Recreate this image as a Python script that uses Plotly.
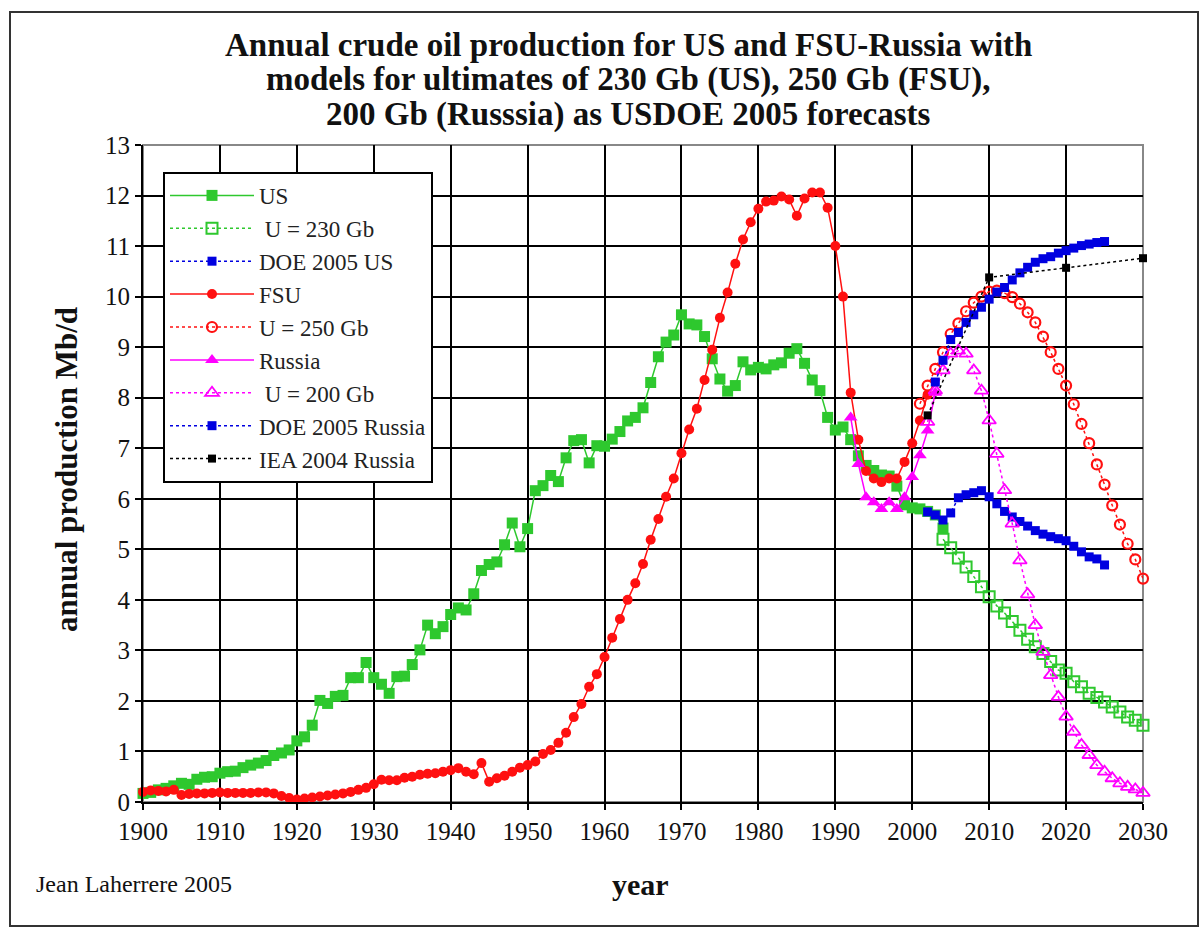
import plotly.graph_objects as go

# ---------------- data ----------------
years_us = list(range(1900, 2005))
us_prod = [0.17, 0.19, 0.24, 0.27, 0.32, 0.37, 0.35, 0.45, 0.49, 0.50,
           0.57, 0.60, 0.61, 0.68, 0.73, 0.77, 0.82, 0.92, 0.97, 1.03,
           1.21, 1.29, 1.52, 2.01, 1.95, 2.09, 2.11, 2.46, 2.46, 2.76,
           2.46, 2.33, 2.15, 2.48, 2.49, 2.72, 3.01, 3.50, 3.33, 3.47,
           3.71, 3.84, 3.80, 4.12, 4.58, 4.70, 4.75, 5.09, 5.52, 5.05,
           5.41, 6.16, 6.26, 6.46, 6.34, 6.81, 7.15, 7.17, 6.71, 7.05,
           7.04, 7.18, 7.33, 7.54, 7.61, 7.80, 8.30, 8.81, 9.10, 9.24,
           9.64, 9.46, 9.44, 9.21, 8.77, 8.37, 8.13, 8.24, 8.71, 8.55,
           8.60, 8.57, 8.65, 8.69, 8.88, 8.97, 8.68, 8.35, 8.14, 7.61,
           7.36, 7.42, 7.17, 6.85, 6.66, 6.56, 6.47, 6.45, 6.25, 5.88,
           5.82, 5.80, 5.75, 5.68, 5.42]

years_u230 = list(range(2004, 2031))
u230 = [5.20, 5.03, 4.83, 4.65, 4.46, 4.26, 4.06, 3.88, 3.74, 3.57,
        3.40, 3.22, 3.07, 2.94, 2.78, 2.61, 2.55, 2.38, 2.28, 2.15,
        2.07, 1.98, 1.88, 1.78, 1.68, 1.62, 1.52]

years_doe_us = list(range(2002, 2026))
doe_us = [5.74, 5.68, 5.58, 5.72, 6.02, 6.08, 6.12, 6.16, 6.04, 5.90,
          5.75, 5.64, 5.55, 5.46, 5.37, 5.30, 5.25, 5.21, 5.17, 5.06,
          4.95, 4.85, 4.81, 4.69]

years_fsu = list(range(1900, 2003))
fsu_prod = [0.20, 0.23, 0.22, 0.21, 0.24, 0.14, 0.16, 0.17, 0.17, 0.18,
            0.19, 0.18, 0.18, 0.18, 0.18, 0.19, 0.19, 0.17, 0.12, 0.08,
            0.05, 0.07, 0.09, 0.11, 0.13, 0.15, 0.17, 0.20, 0.24, 0.28,
            0.35, 0.44, 0.43, 0.43, 0.48, 0.50, 0.54, 0.56, 0.57, 0.60,
            0.63, 0.67, 0.60, 0.55, 0.77, 0.40, 0.47, 0.52, 0.60, 0.68,
            0.73, 0.80, 0.95, 1.03, 1.17, 1.37, 1.68, 1.94, 2.28, 2.53,
            2.87, 3.25, 3.62, 4.00, 4.33, 4.71, 5.19, 5.60, 6.04, 6.40,
            6.90, 7.37, 7.78, 8.35, 8.95, 9.58, 10.08, 10.65, 11.13, 11.47,
            11.74, 11.88, 11.90, 11.98, 11.92, 11.60, 11.94, 12.06, 12.06, 11.76,
            11.00, 10.00, 8.10, 7.17, 6.55, 6.40, 6.33, 6.40, 6.40, 6.73,
            7.10, 7.55, 8.06]

years_u250 = list(range(2001, 2031))
u250 = [7.88, 8.24, 8.57, 8.90, 9.26, 9.47, 9.71, 9.88, 10.00, 10.10,
        10.12, 10.07, 9.99, 9.86, 9.69, 9.49, 9.21, 8.90, 8.57, 8.24,
        7.87, 7.48, 7.10, 6.68, 6.28, 5.87, 5.49, 5.11, 4.80, 4.42]

years_russia = list(range(1992, 2004))
russia_prod = [7.61, 6.69, 6.03, 5.93, 5.80, 5.93, 5.80, 6.03, 6.43, 6.86,
               7.35, 8.10]

years_u200 = list(range(2002, 2031))
u200 = [7.52, 8.14, 8.54, 8.87, 8.93, 8.87, 8.54, 8.14, 7.55, 6.89,
        6.17, 5.51, 4.78, 4.11, 3.50, 2.97, 2.51, 2.08, 1.69, 1.39,
        1.13, 0.93, 0.73, 0.60, 0.47, 0.37, 0.30, 0.25, 0.18]

years_doe_ru = list(range(2003, 2026))
doe_ru = [8.31, 8.74, 9.15, 9.29, 9.49, 9.64, 9.79, 9.95, 10.09, 10.18,
          10.33, 10.47, 10.58, 10.68, 10.75, 10.79, 10.86, 10.91, 10.96, 11.01,
          11.04, 11.07, 11.09]

years_iea = [2002, 2010, 2020, 2030]
iea_ru = [7.65, 10.38, 10.57, 10.76]

x_ticks = list(range(1900, 2031, 10))
y_ticks = list(range(0, 14))

title_lines = ["Annual crude oil production for US and FSU-Russia with",
               "models for ultimates of 230 Gb (US), 250 Gb (FSU),",
               "200 Gb (Russsia) as USDOE 2005 forecasts"]

# ---------------- styling ----------------
GREEN = "#2ec82e"
RED = "#ff1010"
MAGENTA = "#ff00ff"
BLUE = "#0000e0"
BLACK = "#000000"
SERIF = "Liberation Serif"

fig = go.Figure()

def add(x, y, name, color, dash, symbol, size, lw=1.5, mlw=0):
    fig.add_trace(go.Scatter(
        x=x, y=y, name=name, mode="lines+markers",
        line=dict(color=color, width=lw, dash=dash),
        marker=dict(symbol=symbol, size=size, color=color,
                    line=dict(color=color, width=mlw)),
        cliponaxis=False,
    ))

add(years_us, us_prod, "US", GREEN, "solid", "square", 11)
add(years_u230, u230, " U = 230 Gb", GREEN, "dot", "square-open", 11, lw=1.5, mlw=2)
add(years_doe_us, doe_us, "DOE 2005 US", BLUE, "dot", "square", 9)
add(years_fsu, fsu_prod, "FSU", RED, "solid", "circle", 10)
add(years_u250, u250, "U = 250 Gb", RED, "dot", "circle-open", 10, lw=1.5, mlw=2.2)
add(years_russia, russia_prod, "Russia", MAGENTA, "solid", "triangle-up", 12)
add(years_u200, u200, " U = 200 Gb", MAGENTA, "dot", "triangle-up-open", 12, lw=1.5, mlw=1.8)
add(years_doe_ru, doe_ru, "DOE 2005 Russia", BLUE, "dot", "square", 9)
add(years_iea, iea_ru, "IEA 2004 Russia", BLACK, "dot", "square", 8)

L, R, T, B = 143, 1143, 145, 802
W, H = 1202, 932

def px(xp):
    return (xp - L) / (R - L)

def py(yp):
    return (B - yp) / (B - T)

annotations = []
for line, ypix in zip(title_lines, [45, 80, 114]):
    annotations.append(dict(
        text="<b>" + line + "</b>", xref="paper", yref="paper",
        x=px(628), y=py(ypix), xanchor="center", yanchor="middle",
        showarrow=False, font=dict(family=SERIF, size=33, color="#111111")))
annotations += [
    dict(text="<b>annual production Mb/d</b>", textangle=-90,
         xref="paper", yref="paper", x=px(66), y=py(470),
         xanchor="center", yanchor="middle", showarrow=False,
         font=dict(family=SERIF, size=31, color="#111111")),
    dict(text="<b>year</b>",
         xref="paper", yref="paper", x=px(640), y=py(884),
         xanchor="center", yanchor="middle", showarrow=False,
         font=dict(family=SERIF, size=30, color="#111111")),
    dict(text="Jean Laherrere 2005",
         xref="paper", yref="paper", x=px(34), y=py(884),
         xanchor="left", yanchor="middle", showarrow=False,
         font=dict(family=SERIF, size=24, color="#111111")),
]

fig.update_layout(
    width=W, height=H,
    margin=dict(l=L, r=W - R, t=T, b=H - B, pad=0),
    paper_bgcolor="white", plot_bgcolor="white",
    font=dict(family=SERIF, color="#111111"),
    showlegend=True,
    legend=dict(
        x=0.02, y=0.959, xanchor="left", yanchor="top",
        bgcolor="white", bordercolor="black", borderwidth=2,
        font=dict(family=SERIF, size=23, color="#222222"),
        itemwidth=84, tracegroupgap=0,
    ),
    xaxis=dict(
        range=[1900, 2030], tickvals=x_ticks, ticktext=[str(v) for v in x_ticks],
        showgrid=True, gridcolor="black", gridwidth=2,
        showline=True, linecolor="black", linewidth=2,
        ticks="outside", ticklen=6, tickcolor="black", tickwidth=2,
        tickfont=dict(family=SERIF, size=25, color="#111111"),
        zeroline=False,
    ),
    yaxis=dict(
        range=[0, 13], tickvals=y_ticks, ticktext=[str(v) for v in y_ticks],
        showgrid=True, gridcolor="black", gridwidth=2,
        showline=True, linecolor="black", linewidth=2,
        ticks="outside", ticklen=6, tickcolor="black", tickwidth=2,
        tickfont=dict(family=SERIF, size=25, color="#111111"),
        zeroline=False,
    ),
    shapes=[
        dict(type="rect", xref="paper", yref="paper", x0=0, y0=0, x1=1, y1=1,
             line=dict(color="#888888", width=2), layer="below"),
        dict(type="rect", xref="paper", yref="paper",
             x0=px(10), x1=px(1198), y0=py(926), y1=py(12),
             line=dict(color="#333333", width=2)),
    ],
    annotations=annotations,
)

fig.write_html("out.html", config={"displayModeBar": False},
               post_script="document.body.style.margin='0';")
